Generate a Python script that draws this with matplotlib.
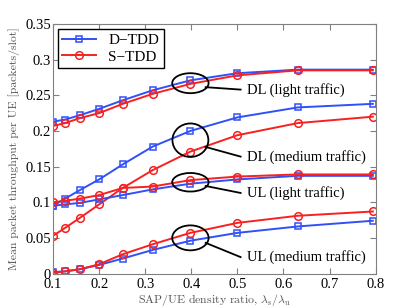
import matplotlib
matplotlib.use("Agg")
import matplotlib.pyplot as plt
from matplotlib.patches import Ellipse

# rapport de densite SAP/UE
ratio = [0.1, 0.126, 0.158, 0.2, 0.251, 0.316, 0.398, 0.5, 0.631, 0.794]

# D-TDD
dl_light_d = [0.213, 0.216, 0.222, 0.231, 0.243, 0.257, 0.271, 0.281, 0.286, 0.286]
dl_med_d = [0.095, 0.105, 0.117, 0.132, 0.153, 0.178, 0.200, 0.219, 0.233, 0.238]
ul_light_d = [0.095, 0.097, 0.099, 0.104, 0.110, 0.118, 0.126, 0.132, 0.137, 0.137]
ul_med_d = [0.002, 0.003, 0.006, 0.012, 0.021, 0.033, 0.046, 0.057, 0.066, 0.074]

# S-TDD
dl_light_s = [0.207, 0.211, 0.218, 0.225, 0.238, 0.252, 0.266, 0.278, 0.285, 0.285]
dl_med_s = [0.053, 0.064, 0.078, 0.097, 0.120, 0.145, 0.171, 0.194, 0.211, 0.220]
ul_light_s = [0.100, 0.102, 0.105, 0.110, 0.120, 0.122, 0.131, 0.136, 0.139, 0.139]
ul_med_s = [0.001, 0.003, 0.006, 0.013, 0.027, 0.041, 0.057, 0.071, 0.081, 0.087]

# ellipses : (x, y, largeur, hauteur, texte, position du texte)
notes = [
    (0.398, 0.267, 0.079, 0.028, "DL (light traffic)", 0.258),
    (0.398, 0.187, 0.078, 0.047, "DL (medium traffic)", 0.164),
    (0.398, 0.128, 0.079, 0.026, "UL (light traffic)", 0.113),
    (0.398, 0.050, 0.079, 0.035, "UL (medium traffic)", 0.023),
]

bleu = "#3050f8"
rouge = "#f82020"
gris = "#808080"

plt.rcParams["mathtext.fontset"] = "cm"

fig = plt.figure(figsize=(4.15, 3.08), dpi=100)
ax = fig.add_axes([0.128, 0.112, 0.777, 0.810])

series = [(dl_light_d, dl_light_s), (dl_med_d, dl_med_s),
          (ul_light_d, ul_light_s), (ul_med_d, ul_med_s)]
for i, (d, s) in enumerate(series):
    ax.plot(ratio, d, color=bleu, lw=1.4, marker="s", ms=4.5, mfc="none",
            mew=1.1, label="D\u2212TDD" if i == 0 else None)
    ax.plot(ratio, s, color=rouge, lw=1.4, marker="o", ms=5.5, mfc="none",
            mew=1.1, label="S\u2212TDD" if i == 0 else None)

for x, y, w, h, texte, yt in notes:
    ax.add_patch(Ellipse((x, y), w, h, fill=False, ec="black", lw=1.3,
                         zorder=5))
    ax.plot([x + w * 0.42, 0.507], [y - h * 0.2, yt], color="black", lw=1.3)
    ax.text(0.52, yt, texte, fontsize=10.5, family="Liberation Serif",
            va="center", ha="left")

ax.set_xlim(0.1, 0.8)
ax.set_ylim(0, 0.35)
ax.set_xticks([0.1, 0.2, 0.3, 0.4, 0.5, 0.6, 0.7, 0.8])
ax.set_yticks([0, 0.05, 0.1, 0.15, 0.2, 0.25, 0.3, 0.35])
ax.set_yticklabels(["0", "0.05", "0.1", "0.15", "0.2", "0.25", "0.3", "0.35"])
ax.set_xticklabels(["0.1", "0.2", "0.3", "0.4", "0.5", "0.6", "0.7", "0.8"])
ax.tick_params(direction="in", top=True, right=True, length=4, color=gris,
               labelsize=10.5)
ax.tick_params(axis="x", pad=3)
ax.tick_params(axis="y", pad=1.5)
for lab in ax.get_xticklabels() + ax.get_yticklabels():
    lab.set_family("Liberation Serif")
for sp in ax.spines.values():
    sp.set_color(gris)

ax.set_xlabel(r"SAP/UE density ratio, $\lambda_{\rm s}/\lambda_{\rm u}$",
              family="cmr10", fontsize=8.5, color="#555555", labelpad=1)
ax.set_ylabel("Mean packet throughput per UE [packets/slot]",
              family="cmr10", fontsize=8.5, color="#555555", labelpad=4)

leg = ax.legend(loc="upper left", prop={"family": "Liberation Serif",
                                        "size": 11},
                fancybox=False, edgecolor="black", framealpha=1,
                borderaxespad=0.3, handlelength=2.2, borderpad=0.3,
                labelspacing=0.2)
leg.get_frame().set_linewidth(1.0)

fig.savefig("out.png", dpi=100)
